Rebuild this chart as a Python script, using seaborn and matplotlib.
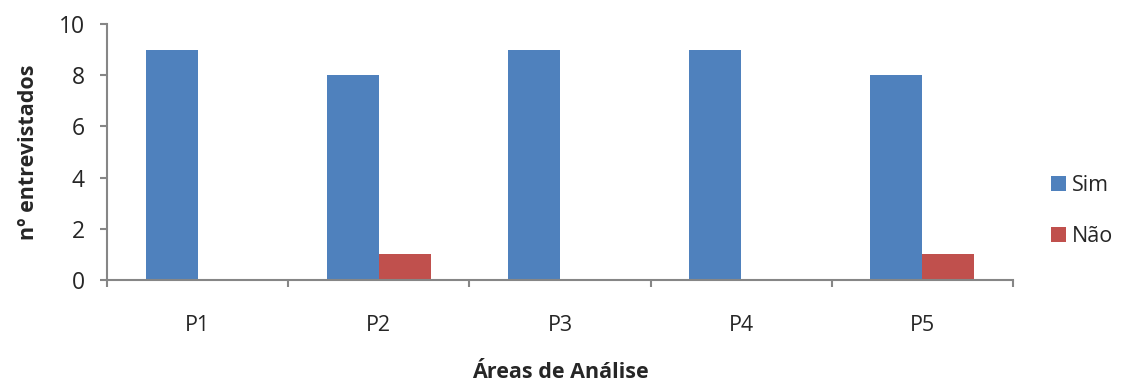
import matplotlib
matplotlib.use("Agg")
import matplotlib.pyplot as plt
import seaborn as sns
import pandas as pd
from matplotlib.ticker import FixedLocator
from matplotlib.patches import Patch

categories = ["P1", "P2", "P3", "P4", "P5"]
sim = [9, 8, 9, 9, 8]
nao = [0, 1, 0, 0, 1]
series_names = ["Sim", "Não"]
colors = ["#4F81BD", "#C0504D"]

df = pd.DataFrame({
    "area": categories * 2,
    "resposta": [series_names[0]] * len(categories) + [series_names[1]] * len(categories),
    "valor": sim + nao,
})

sns.set_style("white")
plt.rcParams["font.family"] = ["Open Sans", "DejaVu Sans"]

fig = plt.figure(figsize=(11.27, 3.83), dpi=100)
ax = fig.add_axes([0.0949, 0.269, 0.804, 0.668])

sns.barplot(data=df, x="area", y="valor", hue="resposta", palette=colors,
            width=0.574, saturation=1, legend=False, linewidth=0, ax=ax)

ax.set_ylim(0, 10)
ax.set_xlim(-0.5, len(categories) - 0.5)
ax.set_yticks([0, 2, 4, 6, 8, 10])

spine_color = "#868686"
for side in ["top", "right"]:
    ax.spines[side].set_visible(False)
for side in ["left", "bottom"]:
    ax.spines[side].set_color(spine_color)
    ax.spines[side].set_linewidth(1.5)

ax.tick_params(axis="y", direction="out", length=5, width=1.5, color=spine_color,
               pad=11, labelsize=16.5, left=True)
ax.tick_params(axis="x", which="major", length=0, pad=25, labelsize=15.5)
ax.xaxis.set_minor_locator(FixedLocator([i - 0.5 for i in range(len(categories) + 1)]))
ax.tick_params(axis="x", which="minor", direction="out", length=5, width=1.5,
               color=spine_color, bottom=True)

ax.set_xlabel("Áreas de Análise", fontsize=15.5, fontweight="bold", labelpad=19)
ax.set_ylabel("nº entrevistados", fontsize=15.5, fontweight="bold", labelpad=14)

handles = [Patch(facecolor=c, edgecolor="none") for c in colors]
ax.legend(handles, series_names, loc="center left", bbox_to_anchor=(1.02, 0.27),
          frameon=False, fontsize=15.5, handlelength=0.7, handleheight=0.7,
          handletextpad=0.3, labelspacing=1.4)

fig.savefig("out.png", dpi=100)
